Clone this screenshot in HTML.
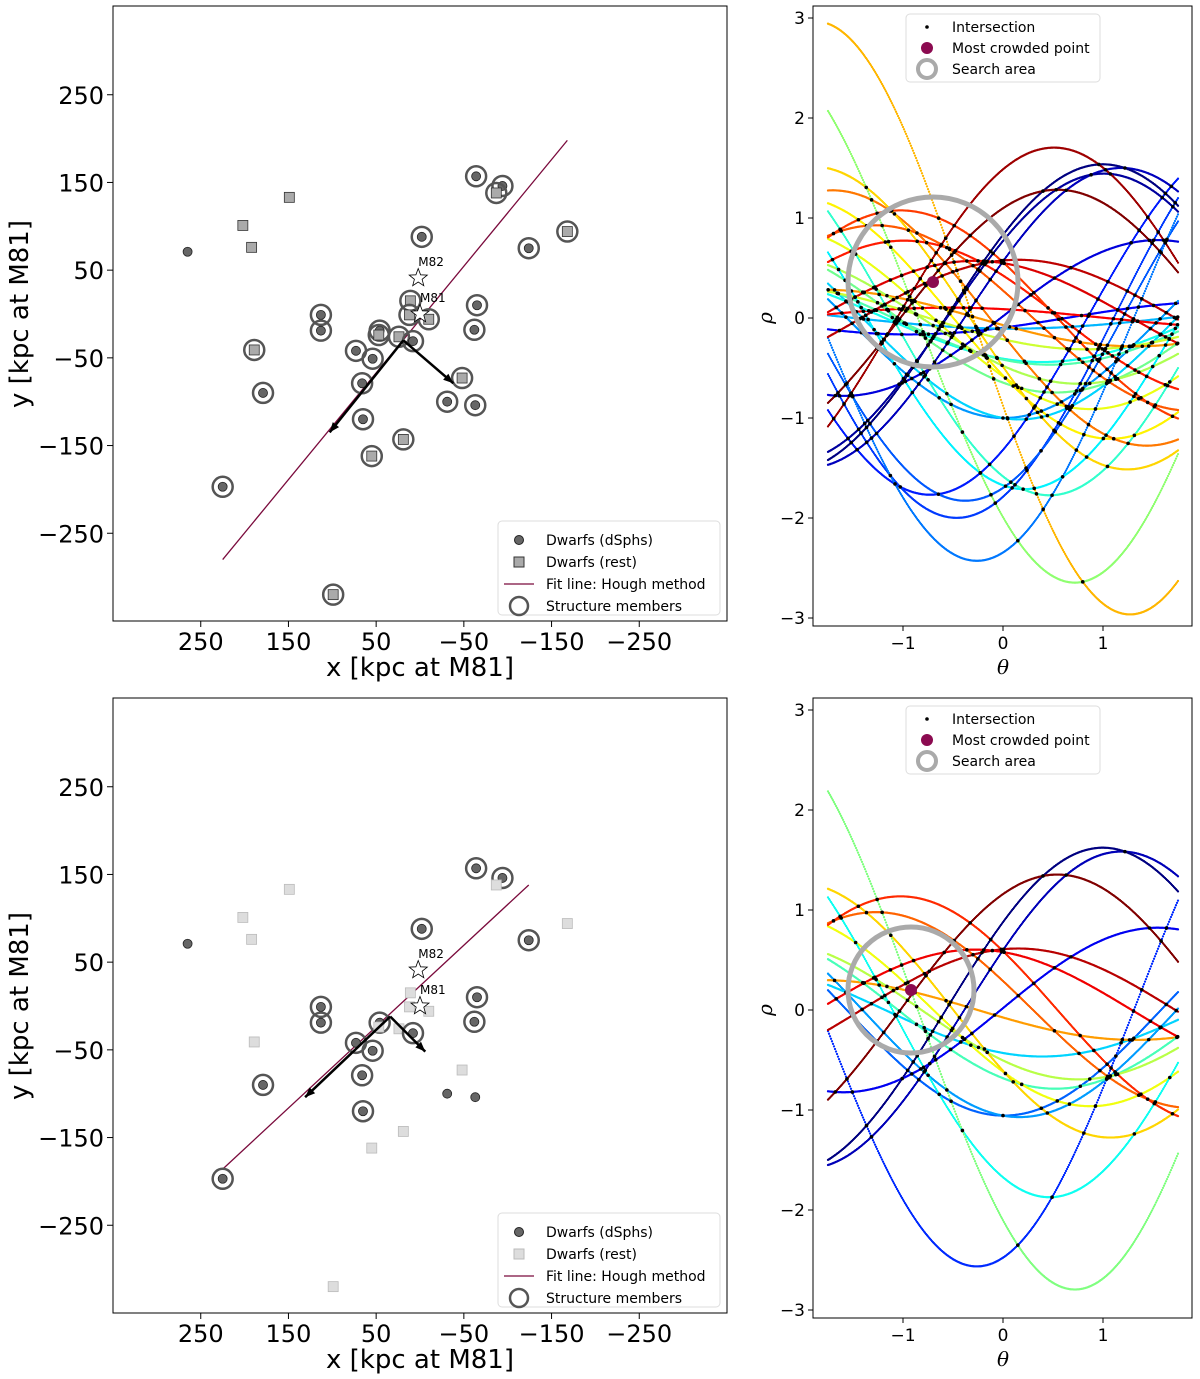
<!DOCTYPE html>
<html><head><meta charset="utf-8"><style>
body{margin:0;background:#fff;font-family:"DejaVu Sans","Liberation Sans",sans-serif}
svg{display:block}
</style></head><body>
<svg id="fig" width="1200" height="1379" xmlns="http://www.w3.org/2000/svg" font-family="DejaVu Sans, Liberation Sans, sans-serif"></svg>
<script>
// dwarf x (kpc), y (kpc), type (d=dSph, r=rest), circled in structure
const dwarfX=[-64,-94,-87,149,-168,202,-2,192,-124,265,11,-65,12,113,-10,113,-62,46,47,24,8,73,54,189,66,-48,179,-31,-63,65,19,55,225,99];
const dwarfY=[157,146,138,133,94,101,88,76,75,71,15,10,-1,-1,-6,-19,-18,-19,-24,-26,-31,-42,-51,-41,-79,-73,-90,-100,-104,-120,-143,-162,-197,-320];
const dwarfType=["d","d","r","r","r","r","d","r","d","d","r","d","r","d","r","d","d","d","r","r","d","d","d","r","d","r","d","d","d","d","r","r","d","r"];
const circledTop=[1,1,1,0,1,0,1,0,1,0,1,1,1,1,1,1,1,1,1,1,1,1,1,1,1,1,1,1,1,1,1,1,1,1];
const circledBottom=[1,1,0,0,0,0,1,0,1,0,0,1,0,1,0,1,1,1,0,0,1,1,1,0,1,0,1,0,0,1,0,0,1,0];
const hostNames=["M82","M81"];
const hostX=[2,0];
const hostY=[41,0];
const fitTop=[[225,-280],[-168,198]];
const fitBottom=[[225,-186],[-124,138]];
const arrowsTop=[[19,-30,[84,-105],[-57,-49]]];
const arrowsBottom=[[34,-12,[97,-92],[-40,-40]]];
const bestTop=[-0.7,0.36,0.85];
const bestBottom=[-0.92,0.2,0.63];
const kpcTicks=[250,150,50,-50,-150,-250];
const thTicks=[-1,0,1];
const rhoTicks=[3,2,1,0,-1,-2,-3];

const NS="http://www.w3.org/2000/svg";
const fig=document.getElementById('fig');
function el(tag,attrs,parent,txt){const e=document.createElementNS(NS,tag);for(const k in attrs)e.setAttribute(k,attrs[k]);if(txt!==undefined)e.textContent=txt;(parent||fig).appendChild(e);return e;}

function jet(t){function c(x){return Math.max(0,Math.min(1,x));}
 const r=c(1.5-Math.abs(4*t-3)),g=c(1.5-Math.abs(4*t-2)),b=c(1.5-Math.abs(4*t-1));
 return `rgb(${Math.round(r*255)},${Math.round(g*255)},${Math.round(b*255)})`;}

function spatial(oy,circled,bottom){
 const L=113,R=727,T=oy,B=oy+615;
 const sx=v=>420-v*0.877, sy=v=>oy+308-v*0.877;
 const g=el('g',{});
 
 
 el('rect',{x:L,y:T,width:R-L,height:B-T,fill:'none',stroke:'#000','stroke-width':1},g);
 kpcTicks.forEach(v=>{
  const x=sx(v);el('line',{x1:x,x2:x,y1:B,y2:B+6,stroke:'#000'},g);
  const t=el('text',{x:x,y:B+29,'font-size':24,'text-anchor':'middle'},g,v<0?'\u2212'+(-v):v);
  
  const y=sy(v);el('line',{x1:L-6,x2:L,y1:y,y2:y,stroke:'#000'},g);
  const t2=el('text',{x:L-9,y:y+9,'font-size':24,'text-anchor':'end'},g,v<0?'\u2212'+(-v):v);
  
 });
 const xl=el('text',{x:420,y:B+55,'font-size':26,'text-anchor':'middle'},g,'x [kpc at M81]');
 
 const yc=oy+308;
 const yl=el('text',{x:28,y:yc,'font-size':26,'text-anchor':'middle',transform:`rotate(-90 28 ${yc})`},g,'y [kpc at M81]');
 
 const fit=bottom?fitBottom:fitTop;
 const fl=el('line',{x1:sx(fit[0][0]),y1:sy(fit[0][1]),x2:sx(fit[1][0]),y2:sy(fit[1][1]),stroke:'#7a0a3c','stroke-width':1.3},g);
 
 dwarfX.forEach((x,i)=>{
  const px=sx(x),py=sy(dwarfY[i]);const light=bottom&&dwarfType[i]==='r';
  if(dwarfType[i]==='d'){const c=el('circle',{cx:px,cy:py,r:4.5,fill:'#666',stroke:'#222','stroke-width':0.8},g);
   }
  else{const c=el('rect',{x:px-5,y:py-5,width:10,height:10,fill:light?'#ddd':'#aaa',stroke:light?'#bbb':'#333','stroke-width':0.8},g);
   }
  if(circled[i]){const c=el('circle',{cx:px,cy:py,r:10,fill:'none',stroke:'#555','stroke-width':2.5},g);
   }
 });
 hostNames.forEach((n,i)=>{
  const px=sx(hostX[i]),py=sy(hostY[i]);
  const pts=[];for(let k=0;k<10;k++){const a=-Math.PI/2+k*Math.PI/5,r=k%2?4:9.5;pts.push((px+r*Math.cos(a)).toFixed(1)+','+(py+r*Math.sin(a)).toFixed(1));}
  const s=el('polygon',{points:pts.join(' '),fill:'#fff',stroke:'#000','stroke-width':0.8},g);
  
  el('text',{x:px,y:py-12,'font-size':12},g,n);
 });
 (bottom?arrowsBottom:arrowsTop).forEach(a=>{
  const ox=sx(a[0]),oy2=sy(a[1]);
  [a[2],a[3]].forEach(d=>{
   const ex=sx(a[0]+d[0]),ey=sy(a[1]+d[1]);
   const ln=el('line',{x1:ox,y1:oy2,x2:ex,y2:ey,stroke:'#000','stroke-width':2.5},g);
   
   const ang=Math.atan2(ey-oy2,ex-ox);const h=10,w=4;
   const p1=[ex-h*Math.cos(ang)+w*Math.sin(ang),ey-h*Math.sin(ang)-w*Math.cos(ang)];
   const p2=[ex-h*Math.cos(ang)-w*Math.sin(ang),ey-h*Math.sin(ang)+w*Math.cos(ang)];
   el('polygon',{points:`${ex},${ey} ${p1} ${p2}`,fill:'#000'},g);
  });
 });
 const lx=498,ly=oy+515;
 const lg=el('g',{},g);
 el('rect',{x:lx,y:ly,width:222,height:94,rx:4,fill:'#fff',stroke:'#ddd'},lg);
 const labs=['Dwarfs (dSphs)','Dwarfs (rest)','Fit line: Hough method','Structure members'];
 labs.forEach((t,i)=>{const y=ly+19+i*22;
  if(i===0)el('circle',{cx:lx+21,cy:y,r:4.5,fill:'#666',stroke:'#222'},lg);
  if(i===1)el('rect',{x:lx+16,y:y-5,width:10,height:10,fill:bottom?'#ddd':'#aaa',stroke:bottom?'#bbb':'#333'},lg);
  if(i===2)el('line',{x1:lx+6,x2:lx+36,y1:y,y2:y,stroke:'#7a0a3c','stroke-width':1.3},lg);
  if(i===3)el('circle',{cx:lx+21,cy:y,r:9,fill:'none',stroke:'#555','stroke-width':2.5},lg);
  const tt=el('text',{x:lx+48,y:y+5,'font-size':14},lg,t);
  
 });
}

function hough(oy,mask,scale,best,bottom){
 const L=813,R=1192,T=oy,B=oy+620;
 const tx=t=>1003+t*100, ry=r=>oy+312-r*100;
 const t0=-1.75,t1=1.75;
 const g=el('g',{});
 
 
 el('clipPath',{id:'cp'+oy},g);
 el('rect',{x:L,y:T,width:R-L,height:B-T},g.lastChild);
 const cg=el('g',{'clip-path':`url(#cp${oy})`},g);
 const idx=[];mask.forEach((m,i)=>{if(m)idx.push(i);});
 const A=idx.map(i=>-dwarfX[i]/scale),Bc=idx.map(i=>dwarfY[i]/scale);
 const ph=k=>{let a=Math.atan2(Bc[k],A[k])-0.9;while(a<0)a+=2*Math.PI;return a;};
 const ord=idx.map((_,k)=>k).sort((a,b)=>ph(a)-ph(b));
 const col={};ord.forEach((k,j)=>col[k]=jet(j/(ord.length-1)));
 idx.forEach((_,k)=>{
  let d='';for(let t=t0;t<=t1+1e-9;t+=0.01){d+='M'+tx(t).toFixed(1)+' '+ry(A[k]*Math.cos(t)+Bc[k]*Math.sin(t)).toFixed(1)+'h0';}
  const p=el('path',{d:d,fill:'none',stroke:col[k],'stroke-width':2.3,'stroke-linecap':'round'},cg);
  
 });
 for(let a=0;a<idx.length;a++)for(let b=a+1;b<idx.length;b++){
  const da=A[a]-A[b],db=Bc[a]-Bc[b];let th=Math.atan2(-da,db);
  for(let k=-2;k<=2;k++){const t=th+k*Math.PI;if(t>=t0&&t<=t1){const r=A[a]*Math.cos(t)+Bc[a]*Math.sin(t);
   const d=el('circle',{cx:tx(t),cy:ry(r),r:1.8,fill:'#000'},cg);
   }}
 }
 const ring=el('circle',{cx:tx(best[0]),cy:ry(best[1]),r:best[2]*100,fill:'none',stroke:'#aaa','stroke-width':5},cg);
 
 const bp=el('circle',{cx:tx(best[0]),cy:ry(best[1]),r:6,fill:'#8b0a50'},cg);
 
 el('rect',{x:L,y:T,width:R-L,height:B-T,fill:'none',stroke:'#000'},g);
 thTicks.forEach(v=>{const x=tx(v);el('line',{x1:x,x2:x,y1:B,y2:B+5,stroke:'#000'},g);
  const t=el('text',{x:x,y:B+23,'font-size':17,'text-anchor':'middle'},g,v<0?'\u2212'+(-v):v);
  });
 rhoTicks.forEach(v=>{const y=ry(v);el('line',{x1:L-5,x2:L,y1:y,y2:y,stroke:'#000'},g);
  const t=el('text',{x:L-8,y:y+6,'font-size':17,'text-anchor':'end'},g,v<0?'\u2212'+(-v):v);
  });
 const xl=el('text',{x:1003,y:B+48,'font-size':20,'font-style':'italic','text-anchor':'middle','font-family':'DejaVu Serif, serif'},g,'\u03b8');
 
 const yc=oy+312;
 const yl=el('text',{x:772,y:yc,'font-size':20,'font-style':'italic','text-anchor':'middle','font-family':'DejaVu Serif, serif',transform:`rotate(-90 772 ${yc})`},g,'\u03c1');
 
 const lg=el('g',{},g);
 const lx=906,ly=oy+8;
 el('rect',{x:lx,y:ly,width:194,height:68,rx:4,fill:'#fff',stroke:'#ddd'},lg);
 ['Intersection','Most crowded point','Search area'].forEach((t,i)=>{const y=ly+13+i*21;
  if(i===0)el('circle',{cx:lx+21,cy:y,r:1.8,fill:'#000'},lg);
  if(i===1)el('circle',{cx:lx+21,cy:y,r:6,fill:'#8b0a50'},lg);
  if(i===2)el('circle',{cx:lx+21,cy:y,r:9,fill:'none',stroke:'#aaa','stroke-width':4},lg);
  const tt=el('text',{x:lx+46,y:y+5,'font-size':14},lg,t);
  });
}

spatial(6,circledTop,false);
spatial(698,circledBottom,true);
hough(6,dwarfX.map(()=>1),113,bestTop,false);
hough(698,dwarfType.map(t=>t==='d'?1:0),107,bestBottom,true);
</script>
</body></html>
